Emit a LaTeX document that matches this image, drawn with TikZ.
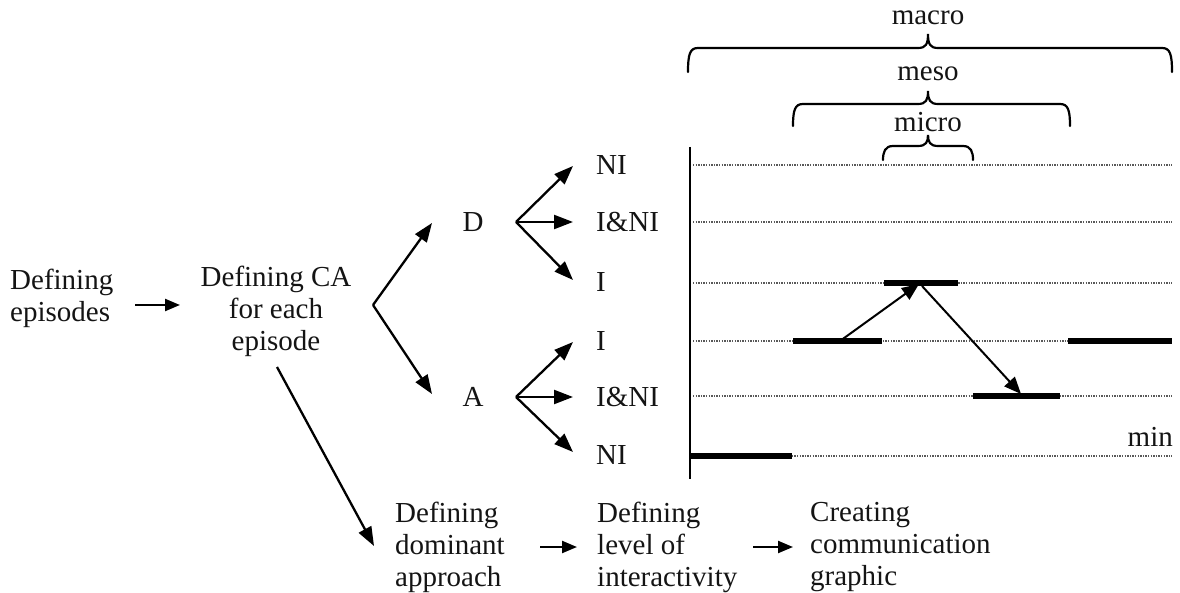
\documentclass[tikz,border=0pt]{standalone}
\usepackage{fontspec}
\setmainfont{Liberation Serif}
\usetikzlibrary{arrows.meta}

% curly brace over a range of time: legs at x1/x2 from ylow up to yh, cusp at xm up to ytip
\newcommand\levelbrace[6]{%
  \draw[bracestyle] (#1,#5) .. controls (#1,#4+6) and (#1+2,#4) .. (#1+10,#4)
    -- (#3-10,#4) .. controls (#3-2,#4) and (#3,#4-4) .. (#3,#6)
    .. controls (#3,#4-4) and (#3+2,#4) .. (#3+10,#4)
    -- (#2-10,#4) .. controls (#2-2,#4) and (#2,#4+6) .. (#2,#5);}

\begin{document}
\begin{tikzpicture}[x=1pt,y=-1pt,
  txt/.style={inner sep=0pt,text=black!92,font=\fontsize{29}{32}\selectfont},
  lab/.style={txt,anchor=west},
  tree/.style={line width=2.3pt,-{Triangle[length=19pt,width=14pt]}},
  flow/.style={line width=2.3pt,-{Triangle[length=15pt,width=12pt]}},
  jump/.style={line width=2pt,-{Triangle[length=17pt,width=14pt]}},
  grid/.style={black!65,line width=1.6pt,dash pattern=on 1.3pt off 1.3pt},
  level/.style={line width=5.5pt},
  bracestyle/.style={line width=2.2pt,line cap=round}]
\useasboundingbox (0,0) rectangle (1180,593);

% ---- process steps ----
\node[txt,align=left,anchor=west] (ep) at (10,298) {Defining\\episodes};
\node[txt,align=center] (ca) at (276,311) {Defining CA\\for each\\episode};
\node[txt,align=left,anchor=west] (dom) at (395,547) {Defining\\dominant\\approach};
\node[txt,align=left,anchor=west] (lev) at (597,547) {Defining\\level of\\interactivity};
\node[txt,align=left,anchor=west] (gra) at (810,547) {Creating\\communication\\graphic};

\coordinate (f1s) at (135,305);  \coordinate (f1e) at (180,305);
\coordinate (f2s) at (540,547);  \coordinate (f2e) at (577,547);
\coordinate (f3s) at (753,547);  \coordinate (f3e) at (793,547);
\coordinate (dgs) at (277,367);  \coordinate (dge) at (374,546);
\draw[flow] (f1s) -- (f1e);
\draw[flow] (f2s) -- (f2e);
\draw[flow] (f3s) -- (f3e);
\draw[tree] (dgs) -- (dge);

% ---- approach tree ----
\coordinate (fork) at (373,305);
\coordinate (toD) at (432,223);
\coordinate (toA) at (432,394);
\draw[tree] (fork) -- (toD);
\draw[tree] (fork) -- (toA);
\node[txt] (D) at (473,222) {D};
\node[txt] (A) at (473,397) {A};
\coordinate (Dr) at (516,222);
\coordinate (Ar) at (516,397);

\node[lab] (dNI)  at (596,165) {NI};
\node[lab] (dINI) at (596,222) {I\&NI};
\node[lab] (dI)   at (596,282) {I};
\node[lab] (aI)   at (596,341) {I};
\node[lab] (aINI) at (596,397) {I\&NI};
\node[lab] (aNI)  at (596,455) {NI};

\draw[tree] (Dr) -- (573,166);
\draw[tree] (Dr) -- (573,222);
\draw[tree] (Dr) -- (573,280);
\draw[tree] (Ar) -- (573,342);
\draw[tree] (Ar) -- (573,397);
\draw[tree] (Ar) -- (573,452);

% ---- interactivity chart ----
\coordinate (ax0) at (690,147);
\coordinate (ax1) at (690,479);
\foreach \y in {165,222,283,341,396,456}
  \draw[grid] (693,\y) -- (1172,\y);
\draw[line width=2.6pt] (ax0) -- (ax1);

\draw[level] (690,456) -- (792,456);
\draw[level] (793,341) -- (882,341);
\draw[level] (884,283) -- (958,283);
\draw[level] (973,396) -- (1060,396);
\draw[level] (1068,341) -- (1172,341);

\coordinate (j1s) at (840,341); \coordinate (j1e) at (919,284);
\coordinate (j2s) at (922,286); \coordinate (j2e) at (1021,394);
\draw[jump] (j1s) -- (j1e);
\draw[jump] (j2s) -- (j2e);

\node[txt,anchor=east] (min) at (1173,437) {min};

% ---- time scales ----
\levelbrace{688}{1172}{928}{48}{72}{34}
\levelbrace{793}{1070}{928}{104}{126}{91}
\levelbrace{883}{973}{928}{146}{160}{135}
\node[txt] (macro) at (928,18) {macro};
\node[txt] (meso)  at (928,74) {meso};
\node[txt] (micro) at (928,122) {micro};
\end{tikzpicture}
\end{document}
